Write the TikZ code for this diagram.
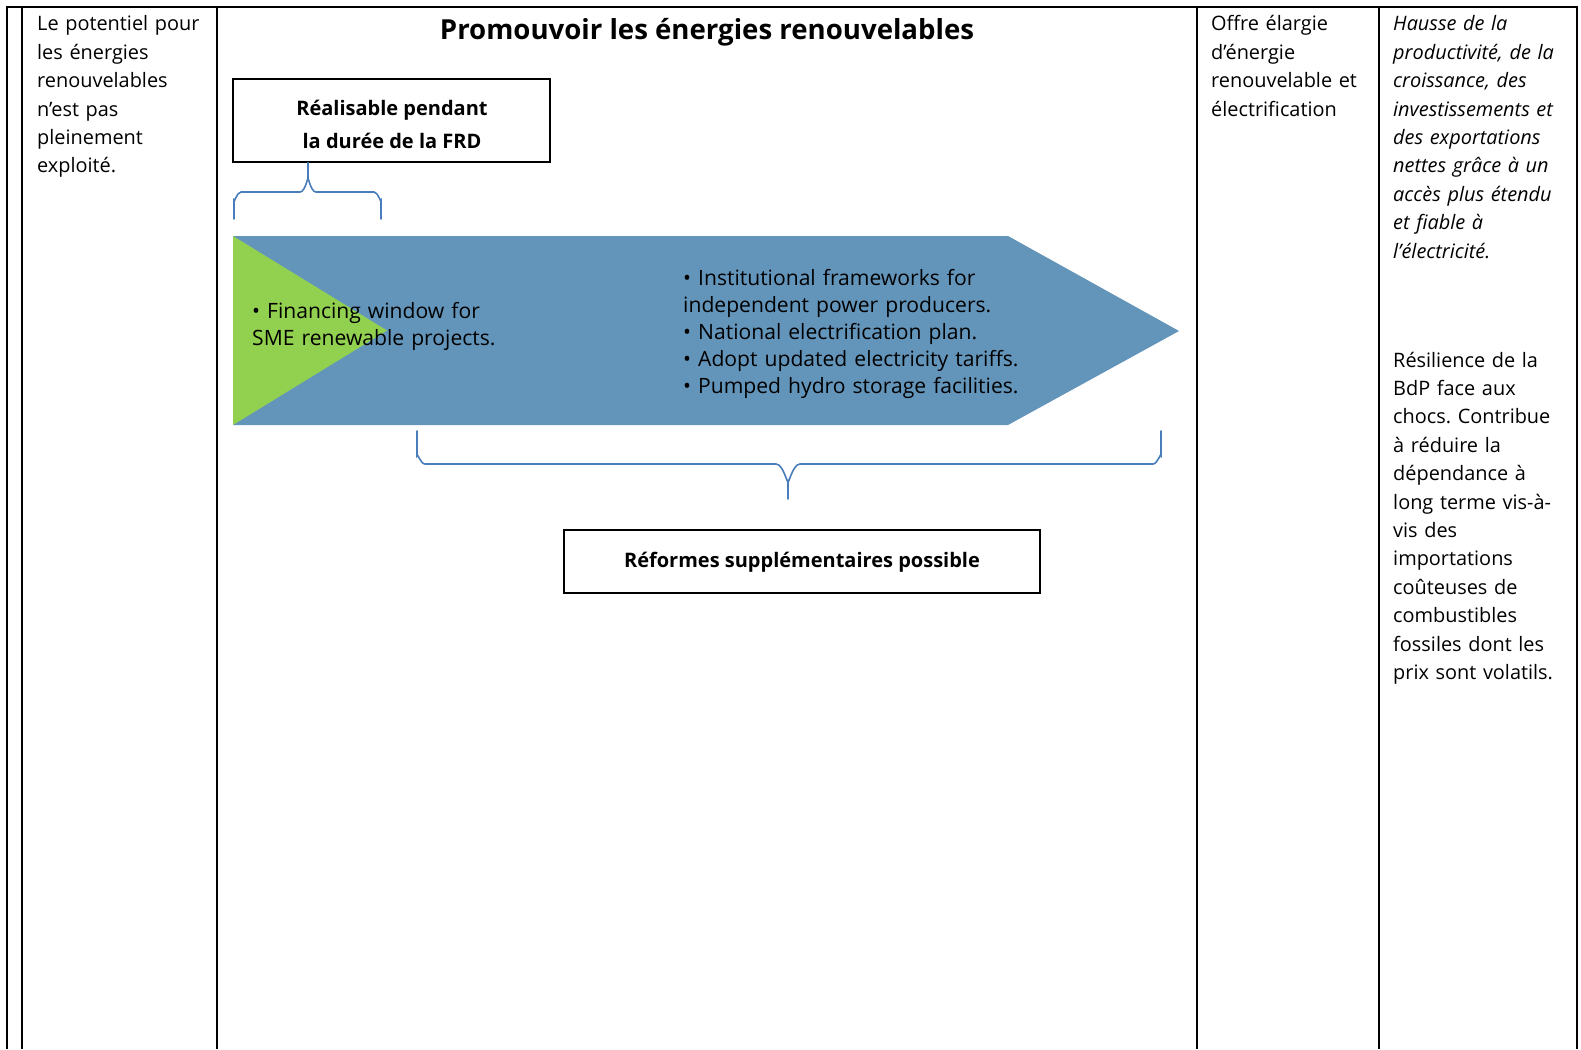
\documentclass[tikz,border=0pt]{standalone}
\usepackage{fontspec}
\setmainfont{Open Sans}
\frenchspacing
\begin{document}
\begin{tikzpicture}[x=1pt,y=-1pt,
  rule/.style={line width=2.4pt,black},
  brace/.style={line width=1.6pt,draw=braceblue,line cap=round},
  body/.style={inner sep=0pt,anchor=base west,align=left,text width=#1,font=\fontsize{19.9}{28.4}\selectfont},
  arrowtxt/.style={inner sep=0pt,anchor=base west,align=left,text width=#1,font=\fontsize{21.1}{27.2}\selectfont},
  labelbox/.style={draw=black,line width=1.2pt,fill=white,inner sep=0pt,minimum width=#1},
  boldtxt/.style={font=\bfseries\fontsize{20}{33}\selectfont}
]
\definecolor{braceblue}{HTML}{4A7EBB}
\definecolor{arrowblue}{HTML}{6395BB}
\definecolor{arrowgreen}{HTML}{92D050}
\useasboundingbox (0,0) rectangle (1581,1049);
\fill[white] (0,0) rectangle (1581,1049);

% table rules
\draw[rule] (5.8,7) -- (1578.2,7);
\foreach \x in {7,22,217,1197,1379,1577} \draw[rule] (\x,7) -- (\x,1049);

% column texts
\node[body=175pt] (c1) at (37,31) {Le potentiel pour\\les énergies\\renouvelables\\n’est pas\\pleinement\\exploité.};
\node[body=175pt] (c3) at (1211,31) {Offre élargie\\d’énergie\\renouvelable et\\électrification};
\node[body=190pt,font=\itshape\fontsize{19.9}{28.4}\selectfont] (c4a) at (1393,31) {Hausse de la\\productivité, de la\\croissance, des\\investissements et\\des exportations\\nettes grâce à un\\accès plus étendu\\et fiable à\\l’électricité.};
\node[body=190pt] (c4b) at (1393,367) {Résilience de la\\BdP face aux\\chocs. Contribue\\à réduire la\\dépendance à\\long terme vis-à-\\vis des\\importations\\coûteuses de\\combustibles\\fossiles dont les\\prix sont volatils.};

% title
\node[inner sep=0pt,anchor=base,font=\bfseries\fontsize{27.6}{32}\selectfont] (title) at (707,40) {Promouvoir les énergies renouvelables};

% arrow
\fill[arrowblue] (233,236) -- (1008,236) -- (1179,331) -- (1008,425) -- (233,425) -- cycle;
\fill[arrowgreen] (233,236) -- (387,330.5) -- (233,425) -- cycle;
\node[arrowtxt=320pt] (fin) at (252,318) {• Financing window for\\SME renewable projects.};
\node[arrowtxt=360pt] (inst) at (683,285) {• Institutional frameworks for\\independent power producers.\\• National electrification plan.\\• Adopt updated electricity tariffs.\\• Pumped hydro storage facilities.};

% boxes
\node[labelbox=317pt,minimum height=83pt] (box1) at (391.5,120.5) {};
\node[boldtxt,inner sep=0pt,anchor=base] (b1a) at (392,115) {Réalisable pendant};
\node[boldtxt,inner sep=0pt,anchor=base] (b1b) at (392,148) {la durée de la FRD};
\node[labelbox=476pt,minimum height=63pt] (box2) at (802,561.5) {};
\node[boldtxt,inner sep=0pt,anchor=base] (b2) at (802,567) {Réformes supplémentaires possible};

% braces
\coordinate (t1) at (box1.south -| 308,0);
\draw[brace] (234,219) -- (234,200) to[out=-90,in=180] (241,192) -- (300,192) to[out=0,in=90] (308,180) -- (t1);
\draw[brace] (381,219) -- (381,200) to[out=-90,in=0] (374,192) -- (316,192) to[out=180,in=90] (308,180);
\coordinate (t2) at (788,499);
\draw[brace] (417,431) -- (417,456) to[out=90,in=180] (425,464) -- (776,464) to[out=0,in=-90] (788,480) -- (t2);
\draw[brace] (1161,431) -- (1161,456) to[out=90,in=0] (1153,464) -- (800,464) to[out=180,in=-90] (788,480);
\end{tikzpicture}
\end{document}
